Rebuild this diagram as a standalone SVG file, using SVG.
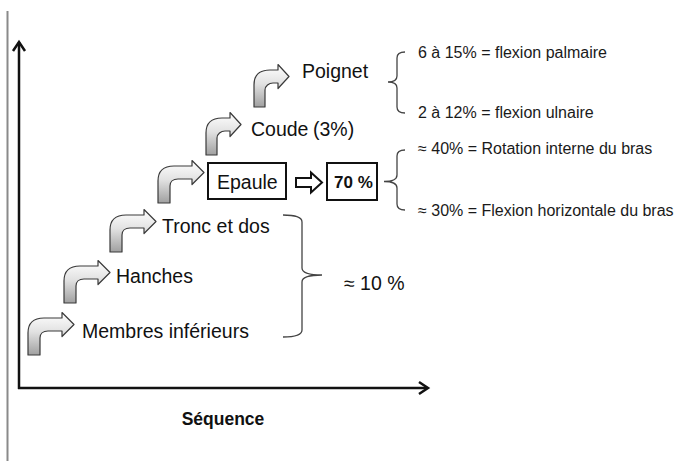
<svg xmlns="http://www.w3.org/2000/svg" width="678" height="461" viewBox="0 0 678 461">
  <style>
    .lbl { font-family: "Liberation Sans", Arial, sans-serif; font-size: 19.5px; fill: #111; }
    .note { font-family: "Liberation Sans", Arial, sans-serif; font-size: 16px; fill: #1a1a1a; }
    .bold { font-family: "Liberation Sans", Arial, sans-serif; font-weight: bold; fill: #111; }
    .axis { stroke: #111; stroke-width: 2.5; fill: none; }
    .brace { stroke: #444; stroke-width: 1.3; fill: none; }
    .box { stroke: #111; stroke-width: 2; fill: #fff; }
    .bent { fill: url(#bentFill); stroke: #3a3a3a; stroke-width: 1.2; stroke-linejoin: round; }
  </style>
  <defs>
    <linearGradient id="bentFill" x1="0" y1="0" x2="0" y2="1">
      <stop offset="0" stop-color="#ffffff"/>
      <stop offset="0.45" stop-color="#e2e2e2"/>
      <stop offset="1" stop-color="#a0a0a0"/>
    </linearGradient>
    <!-- bent step arrow, origin at bottom-left of the stem -->
    <path id="bentWide" d="M0,0 V-22 C0,-32 6,-37 16,-37 H34 V-42.5 L46,-30.5 L34,-18.5 V-24 H20 C15,-24 12,-21 12,-17 V0 Z"/>
    <path id="bentNarrow" d="M0,0 V-22 C0,-32 6,-37 16,-37 H24 V-42.5 L35,-30.5 L24,-18.5 V-24 H19 C15,-24 11,-21 11,-17 V0 Z"/>
  </defs>

  <rect width="678" height="461" fill="#fff"/>

  <!-- left margin rule -->
  <line x1="7.5" y1="11" x2="7.5" y2="461" stroke="#8a8a8a" stroke-width="2"/>

  <!-- axes -->
  <g id="axes">
    <line class="axis" x1="19" y1="389" x2="19" y2="42"/>
    <polyline class="axis" points="13,51 19,42 25,51"/>
    <line class="axis" x1="18" y1="388" x2="427" y2="388"/>
    <polyline class="axis" points="419,382 428,388 419,394"/>
    <text class="bold" x="223" y="425" font-size="17.5" text-anchor="middle">Séquence</text>
  </g>

  <!-- step arrows -->
  <g id="connectors">
    <use href="#bentWide" class="bent" x="28" y="355"/>
    <use href="#bentWide" class="bent" x="64" y="303"/>
    <use href="#bentWide" class="bent" x="110" y="252"/>
    <use href="#bentWide" class="bent" x="158" y="203"/>
    <use href="#bentNarrow" class="bent" x="206" y="155"/>
    <use href="#bentNarrow" class="bent" x="254" y="107"/>
    <!-- hollow arrow Epaule -> 70 % -->
    <path d="M296,178 H311 V172.5 L322,182.5 L311,192.5 V187 H296 Z" fill="#fff" stroke="#111" stroke-width="2" stroke-linejoin="miter"/>
    <!-- braces -->
    <path class="brace" d="M283,215 Q302,215 302,222 V268 Q302,275 322,275 Q302,275 302,282 V330 Q302,337 283,337"/>
    <path class="brace" d="M405,52 Q397,52 397,58 V76 Q397,82 388,82 Q397,82 397,88 V107 Q397,113 405,113"/>
    <path class="brace" d="M405,150 Q397,150 397,156 V175 Q397,181.5 384,181.5 Q397,181.5 397,188 V204 Q397,210 405,210"/>
  </g>

  <g id="membres">
    <text class="lbl" x="82" y="338">Membres inférieurs</text>
  </g>
  <g id="hanches">
    <text class="lbl" x="116" y="283">Hanches</text>
  </g>
  <g id="tronc">
    <text class="lbl" x="162" y="233">Tronc et dos</text>
  </g>
  <g id="epaule">
    <rect class="box" x="208" y="163" width="78" height="36"/>
    <text class="lbl" x="217" y="189">Epaule</text>
  </g>
  <g id="pct70">
    <rect class="box" x="327" y="163" width="50" height="37"/>
    <text class="bold" x="334" y="188" font-size="17">70 %</text>
  </g>
  <g id="coude">
    <text class="lbl" x="251" y="136">Coude</text>
    <text class="lbl" x="313" y="136" font-size="18.5">(3%)</text>
  </g>
  <g id="poignet">
    <text class="lbl" x="302" y="78">Poignet</text>
  </g>
  <g id="pct10">
    <text class="lbl" x="344" y="290">≈ 10 %</text>
  </g>
  <g id="notes">
    <text class="note" x="418" y="58">6 à 15% = flexion palmaire</text>
    <text class="note" x="418" y="118">2 à 12% = flexion ulnaire</text>
    <text class="note" x="418" y="154">≈ 40% = Rotation interne du bras</text>
    <text class="note" x="418" y="216">≈ 30% = Flexion horizontale du bras</text>
  </g>
</svg>
